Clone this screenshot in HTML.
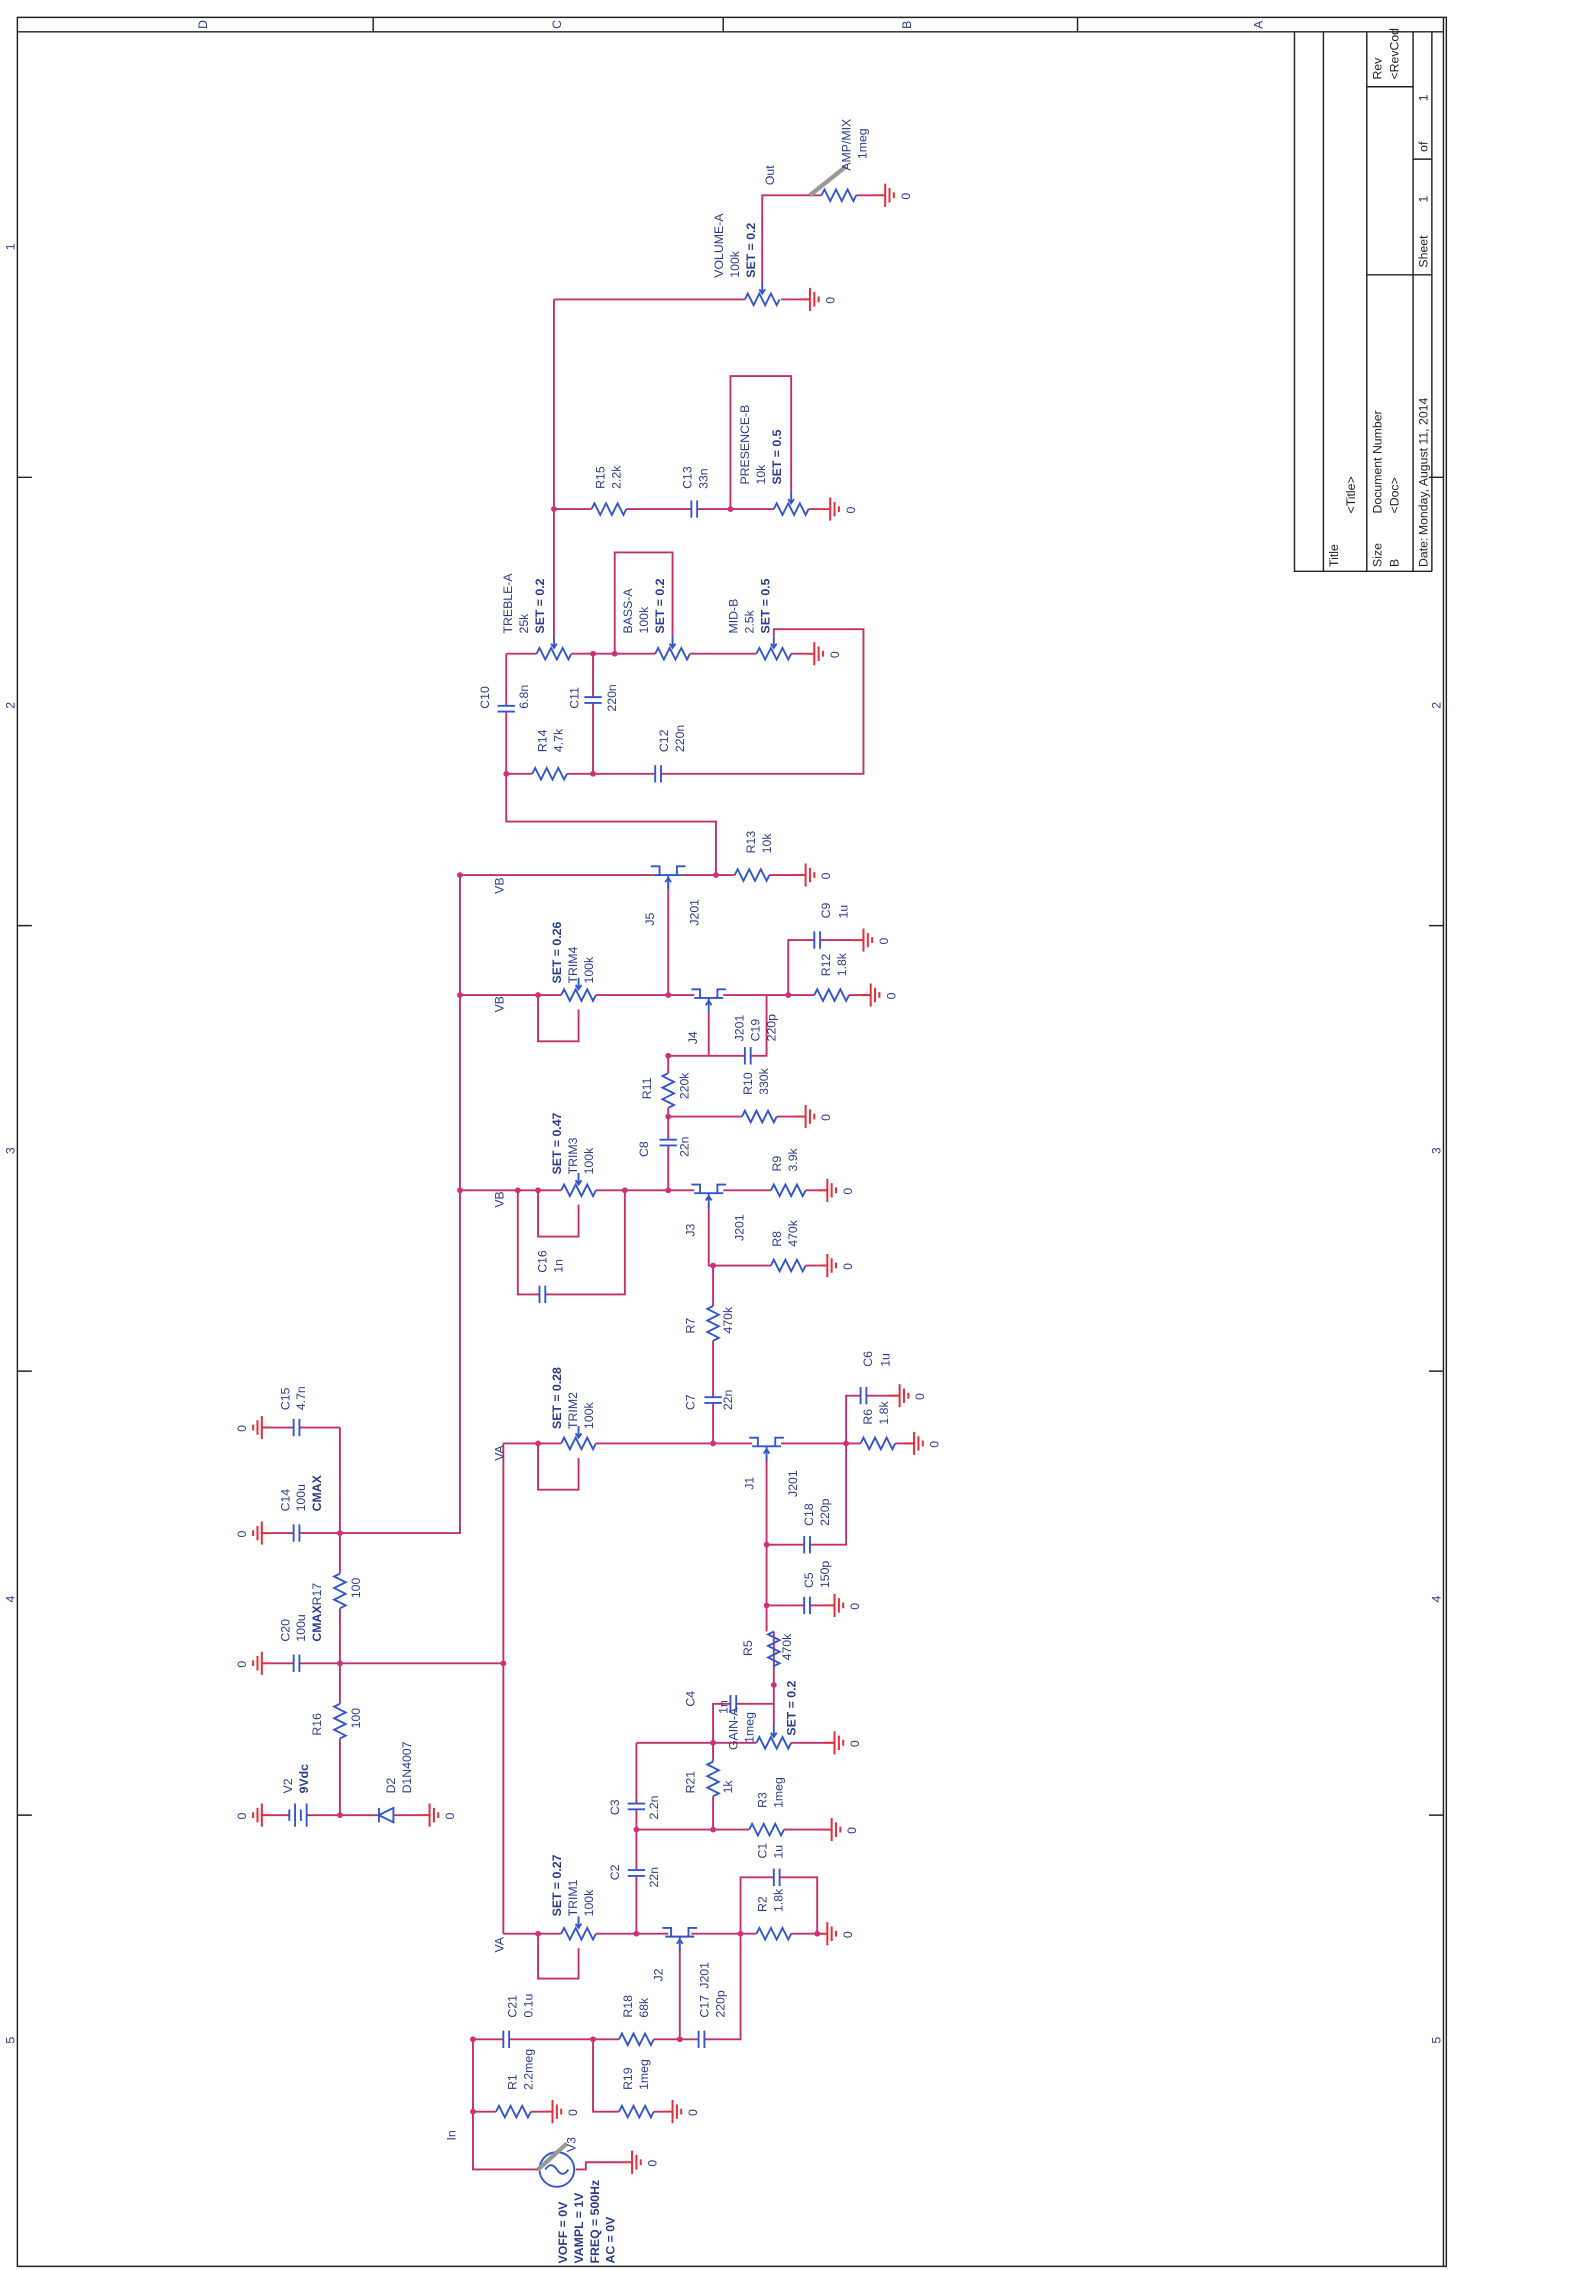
<!DOCTYPE html>
<html><head><meta charset="utf-8"><style>
html,body{margin:0;padding:0;background:#fff}
svg{display:block}
text{font-family:"Liberation Sans",sans-serif;font-size:8.5px;fill:#2a3a8a}
.w{fill:none;stroke:#c0306a;stroke-width:1.3}
.b{fill:none;stroke:#3355cc;stroke-width:1.3}
.k{fill:none;stroke:#222;stroke-width:1}
.d{fill:#d0307a}
</style></head><body>
<svg width="1591" height="2270" viewBox="0 0 1100 1569.5" xmlns="http://www.w3.org/2000/svg">
<defs>
<g id="rh"><path class="b" d="M-12,0 l2,-4 l4,8 l4,-8 l4,8 l4,-8 l4,8 l2,-4"/></g>
<g id="rv"><path class="b" d="M0,-12 l-4,2 l8,4 l-8,4 l8,4 l-8,4 l8,4 l-4,2"/></g>
<g id="ch"><path class="b" d="M-2,-6 v12 M2,-6 v12"/></g>
<g id="cv"><path class="b" d="M-6,-2 h12 M-6,2 h12"/></g>
<g id="gr"><path d="M0,0 h7 M7,-8 v16 M10,-5 v10 M13,-2 v4" stroke="#e03040" stroke-width="1.4" fill="none"/><text x="0" y="0" transform="translate(24,3) rotate(-90)">0</text></g>
<g id="gl"><path d="M0,0 h-7 M-7,-8 v16 M-10,-5 v10 M-13,-2 v4" stroke="#e03040" stroke-width="1.4" fill="none"/><text transform="translate(-18,3) rotate(-90)">0</text></g>
<g id="pot"><use href="#rh"/><path class="b" d="M0,-12 v8 M-2,-7 l2,3 l2,-3"/></g>
<g id="jf"><path class="b" d="M-10,0 h20 M-6,0 v-6 h-6 M6,0 v-6 h6 M0,0 v10 M-2,5 l2,-3 l2,3"/></g>
</defs>

<!-- frame -->
<path class="k" d="M12,12 H1000 V1567 H12 Z M12,22 H998 M998,12 V1567 M258,12 V22 M500,12 V22 M745,12 V22 M12,22 V1567 M12,330 H22 M12,640 H22 M12,948 H22 M12,1255 H22 M988,330 H998 M988,640 H998 M988,948 H998 M988,1255 H998"/>
<text transform="translate(143,20) rotate(-90)">D</text>
<text transform="translate(388,20) rotate(-90)">C</text>
<text transform="translate(630,20) rotate(-90)">B</text>
<text transform="translate(873,20) rotate(-90)">A</text>
<text transform="translate(10,173) rotate(-90)">1</text><text transform="translate(10,490) rotate(-90)">2</text><text transform="translate(10,798) rotate(-90)">3</text><text transform="translate(10,1108) rotate(-90)">4</text><text transform="translate(10,1413) rotate(-90)">5</text>
<text transform="translate(996,490) rotate(-90)">2</text><text transform="translate(996,798) rotate(-90)">3</text><text transform="translate(996,1108) rotate(-90)">4</text><text transform="translate(996,1413) rotate(-90)">5</text>
<!-- title block -->
<path class="k" d="M895,22 V395 H990 M915,22 V395 M945,22 V395 M977,22 V395 M990,22 V395 M945,60 H977 M945,190 H990 M977,110 H990"/>
<g style="fill:#222">
<text transform="translate(925,392) rotate(-90)" style="fill:#222">Title</text>
<text transform="translate(937,355) rotate(-90)" style="fill:#222">&lt;Title&gt;</text>
<text transform="translate(955,392) rotate(-90)" style="fill:#222">Size</text>
<text transform="translate(967,392) rotate(-90)" style="fill:#222">B</text>
<text transform="translate(955,355) rotate(-90)" style="fill:#222">Document Number</text>
<text transform="translate(967,355) rotate(-90)" style="fill:#222">&lt;Doc&gt;</text>
<text transform="translate(955,55) rotate(-90)" style="fill:#222">Rev</text>
<text transform="translate(967,55) rotate(-90)" style="fill:#222">&lt;RevCod</text>
<text transform="translate(987,392) rotate(-90)" style="fill:#222">Date:</text>
<text transform="translate(987,370) rotate(-90)" style="fill:#222">Monday, August 11, 2014</text>
<text transform="translate(987,185) rotate(-90)" style="fill:#222">Sheet</text>
<text transform="translate(987,140) rotate(-90)" style="fill:#222">1</text>
<text transform="translate(987,105) rotate(-90)" style="fill:#222">of</text>
<text transform="translate(987,70) rotate(-90)" style="fill:#222">1</text>
</g>

<!-- wires -->
<path class="w" d="
M383,207 H515 M540,207 H553 M527,195 V135 H568 M592,135 H605
M383,207 V440
M383,352 H409 M433,352 H478 M482,352 H535 M559,352 H567 M505,352 V260 H547 V340
M350,452 H371 M395,452 H453 M477,452 H523 M547,452 H556
M425,452 V382 H465 V440
M535,440 V435 H597 V535 H457 M453,535 H392 M368,535 H350 V492 M350,488 V452
M410,452 V482 M410,486 V535
M350,535 V568 H495 V605
M318,605 H452 M462,610 V688 M472,605 H508 M532,605 H550
M318,605 V1060 H235
M318,688 H388 M412,688 H480 M372,688 V720 H400 V698
M500,688 H545 M545,688 V650 H563 M567,650 H590 M545,688 H563 M587,688 H595
M490,700 V730 H462 M490,730 H515 M519,730 H530 V688
M462,730 V742 M462,766 V788 M462,792 V823
M462,772 H513 M537,772 H550
M318,823 H388 M412,823 H480 M358,823 V895 H373 M377,895 H432 V823 M372,823 V855 H400 V833
M500,823 H533 M557,823 H565
M490,833 V875 H533 M557,875 H565 M493,875 V903 M493,927 V966 M493,970 V998
M348,998 H388 M412,998 H520 M372,998 V1030 H400 V1008
M540,998 H595 M619,998 H625 M585,998 V965 H595 M599,965 H615
M530,1008 V1128 M530,1068 H556 M560,1068 H585 V998 M530,1110 H556 M560,1110 H570
M535,1128 V1152 M535,1152 V1193
M535,1165 H535 M493,1205 H523 M547,1205 H570
M493,1205 V1178 H505 M509,1178 H535 V1165
M493,1205 V1218 M493,1242 V1265 M440,1265 H518 M542,1265 H568
M440,1205 H493 M440,1205 V1247 M440,1251 V1293 M440,1297 V1337
M348,998 V1337 M348,1150 H235
M348,1337 H388 M412,1337 H462 M372,1337 V1368 H400 V1347
M478,1337 H512 V1298 H535 M539,1298 H565 V1337 M512,1337 H523 M547,1337 H565
M470,1347 V1410 M512,1337 V1410 H487 M483,1410 H470
M327,1410 H348 M352,1410 H428 M452,1410 H470
M327,1410 V1460 H343 M367,1460 H375 M410,1410 V1460 H428 M452,1460 H458
M327,1460 V1500 H372 M398,1500 H405 V1495 H430
M235,987 V1088 M235,1112 V1178 M235,1202 V1255 H262 M272,1255 H290
M235,1255 H212 M200,1255 H188
M235,1150 H207 M203,1150 H188 M235,1060 H207 M203,1060 H188 M235,987 H207 M203,987 H188
"/>

<!-- components -->
<use href="#pot" x="527" y="207"/><use href="#gr" x="553" y="207"/>
<use href="#rh" x="580" y="135"/><use href="#gr" x="605" y="135"/>
<use href="#rh" x="421" y="352"/><use href="#ch" x="480" y="352"/>
<use href="#pot" x="547" y="352"/><use href="#gr" x="567" y="352"/>
<use href="#pot" x="383" y="452"/><use href="#pot" x="465" y="452"/><use href="#pot" x="535" y="452"/><use href="#gr" x="556" y="452"/>
<use href="#cv" x="350" y="490"/><use href="#cv" x="410" y="484"/>
<use href="#rh" x="380" y="535"/><use href="#ch" x="455" y="535"/>
<use href="#jf" x="462" y="605"/><use href="#rh" x="520" y="605"/><use href="#gr" x="550" y="605"/>
<use href="#pot" x="400" y="688"/><use href="#jf" x="490" y="690"/>
<use href="#ch" x="565" y="650"/><use href="#gr" x="590" y="650"/>
<use href="#rh" x="575" y="688"/><use href="#gr" x="595" y="688"/>
<use href="#ch" x="517" y="730"/><use href="#rv" x="462" y="754"/><use href="#cv" x="462" y="790"/>
<use href="#rh" x="525" y="772"/><use href="#gr" x="550" y="772"/>
<use href="#pot" x="400" y="823"/><use href="#ch" x="375" y="895"/><use href="#jf" x="490" y="825"/>
<use href="#rh" x="545" y="823"/><use href="#gr" x="565" y="823"/>
<use href="#rh" x="545" y="875"/><use href="#gr" x="565" y="875"/>
<use href="#rv" x="493" y="915"/><use href="#cv" x="493" y="968"/>
<use href="#pot" x="400" y="998"/><use href="#jf" x="530" y="1000"/>
<use href="#rh" x="607" y="998"/><use href="#gr" x="625" y="998"/>
<use href="#ch" x="597" y="965"/><use href="#gr" x="615" y="965"/>
<use href="#ch" x="558" y="1068"/><use href="#ch" x="558" y="1110"/><use href="#gr" x="570" y="1110"/>
<use href="#rv" x="535" y="1140"/>
<use href="#pot" x="535" y="1205"/><use href="#gr" x="570" y="1205"/>
<use href="#ch" x="507" y="1178"/><use href="#rv" x="493" y="1230"/>
<use href="#rh" x="530" y="1265"/><use href="#gr" x="568" y="1265"/>
<use href="#cv" x="440" y="1249"/><use href="#cv" x="440" y="1295"/>
<use href="#pot" x="400" y="1337"/><use href="#jf" x="470" y="1339"/>
<use href="#ch" x="537" y="1298"/><use href="#rh" x="535" y="1337"/><use href="#gr" x="565" y="1337"/>
<use href="#ch" x="485" y="1410"/><use href="#rh" x="440" y="1410"/><use href="#ch" x="350" y="1410"/>
<use href="#rh" x="355" y="1460"/><use href="#gr" x="375" y="1460"/>
<use href="#rh" x="440" y="1460"/><use href="#gr" x="458" y="1460"/>
<circle cx="385" cy="1500" r="12" class="b"/><path class="b" d="M377,1500 q4,-6 8,0 q4,6 8,0"/>
<use href="#gr" x="430" y="1495"/>
<use href="#rv" x="235" y="1100"/><use href="#rv" x="235" y="1190"/>
<path class="b" d="M262,1250 v10 M262,1255 l10,-5 v10 z"/><use href="#gr" x="290" y="1255"/>
<path class="b" d="M212,1247 v16 M208,1251 v8 M204,1247 v16 M200,1251 v8"/><use href="#gl" x="188" y="1255"/>
<use href="#ch" x="205" y="1150"/><use href="#gl" x="188" y="1150"/>
<use href="#ch" x="205" y="1060"/><use href="#gl" x="188" y="1060"/>
<use href="#ch" x="205" y="987"/><use href="#gl" x="188" y="987"/>
<path d="M560,135 l25,-20" stroke="#999" stroke-width="3"/><path d="M372,1500 l20,-18" stroke="#999" stroke-width="3"/>

<!-- nodes -->
<g class="d">
<circle cx="383" cy="352" r="2"/><circle cx="505" cy="352" r="2"/><circle cx="410" cy="452" r="2"/><circle cx="425" cy="452" r="2"/>
<circle cx="350" cy="535" r="2"/><circle cx="410" cy="535" r="2"/><circle cx="495" cy="605" r="2"/><circle cx="318" cy="605" r="2"/>
<circle cx="318" cy="688" r="2"/><circle cx="372" cy="688" r="2"/><circle cx="462" cy="688" r="2"/><circle cx="545" cy="688" r="2"/><circle cx="462" cy="730" r="2"/><circle cx="462" cy="772" r="2"/>
<circle cx="318" cy="823" r="2"/><circle cx="358" cy="823" r="2"/><circle cx="372" cy="823" r="2"/><circle cx="432" cy="823" r="2"/><circle cx="462" cy="823" r="2"/><circle cx="493" cy="875" r="2"/>
<circle cx="493" cy="998" r="2"/><circle cx="372" cy="998" r="2"/><circle cx="585" cy="998" r="2"/><circle cx="530" cy="1068" r="2"/><circle cx="530" cy="1110" r="2"/><circle cx="535" cy="1165" r="2"/>
<circle cx="493" cy="1205" r="2"/><circle cx="493" cy="1265" r="2"/><circle cx="440" cy="1265" r="2"/><circle cx="440" cy="1337" r="2"/><circle cx="372" cy="1337" r="2"/>
<circle cx="512" cy="1337" r="2"/><circle cx="565" cy="1337" r="2"/><circle cx="470" cy="1410" r="2"/><circle cx="410" cy="1410" r="2"/><circle cx="327" cy="1410" r="2"/><circle cx="327" cy="1460" r="2"/>
<circle cx="348" cy="1150" r="2"/><circle cx="235" cy="1150" r="2"/><circle cx="235" cy="1060" r="2"/><circle cx="235" cy="1255" r="2"/>
</g>

<!-- labels -->
<text transform="translate(500,192) rotate(-90)">VOLUME-A</text><text transform="translate(511,192) rotate(-90)">100k</text><text transform="translate(522,192) rotate(-90)" style="font-weight:bold">SET = 0.2</text>
<text transform="translate(535,128) rotate(-90)">Out</text>
<text transform="translate(588,118) rotate(-90)">AMP/MIX</text><text transform="translate(599,110) rotate(-90)">1meg</text>
<text transform="translate(418,338) rotate(-90)">R15</text><text transform="translate(429,338) rotate(-90)">2.2k</text>
<text transform="translate(478,338) rotate(-90)">C13</text><text transform="translate(489,338) rotate(-90)">33n</text>
<text transform="translate(518,335) rotate(-90)">PRESENCE-B</text><text transform="translate(529,335) rotate(-90)">10k</text><text transform="translate(540,335) rotate(-90)" style="font-weight:bold">SET = 0.5</text>
<text transform="translate(354,438) rotate(-90)">TREBLE-A</text><text transform="translate(365,438) rotate(-90)">25k</text><text transform="translate(376,438) rotate(-90)" style="font-weight:bold">SET = 0.2</text>
<text transform="translate(437,438) rotate(-90)">BASS-A</text><text transform="translate(448,438) rotate(-90)">100k</text><text transform="translate(459,438) rotate(-90)" style="font-weight:bold">SET = 0.2</text>
<text transform="translate(510,438) rotate(-90)">MID-B</text><text transform="translate(521,438) rotate(-90)">2.5k</text><text transform="translate(532,438) rotate(-90)" style="font-weight:bold">SET = 0.5</text>
<text transform="translate(338,490) rotate(-90)">C10</text><text transform="translate(365,490) rotate(-90)">6.8n</text>
<text transform="translate(400,490) rotate(-90)">C11</text><text transform="translate(426,492) rotate(-90)">220n</text>
<text transform="translate(378,520) rotate(-90)">R14</text><text transform="translate(389,520) rotate(-90)">4.7k</text>
<text transform="translate(462,520) rotate(-90)">C12</text><text transform="translate(473,520) rotate(-90)">220n</text>
<text transform="translate(522,590) rotate(-90)">R13</text><text transform="translate(533,590) rotate(-90)">10k</text>
<text transform="translate(452,640) rotate(-90)">J5</text><text transform="translate(483,640) rotate(-90)">J201</text>
<text transform="translate(348,618) rotate(-90)">VB</text><text transform="translate(348,700) rotate(-90)">VB</text><text transform="translate(348,835) rotate(-90)">VB</text>
<text transform="translate(388,680) rotate(-90)" style="font-weight:bold">SET = 0.26</text><text transform="translate(399,680) rotate(-90)">TRIM4</text><text transform="translate(410,680) rotate(-90)">100k</text>
<text transform="translate(574,635) rotate(-90)">C9</text><text transform="translate(586,635) rotate(-90)">1u</text>
<text transform="translate(574,675) rotate(-90)">R12</text><text transform="translate(585,675) rotate(-90)">1.8k</text>
<text transform="translate(482,722) rotate(-90)">J4</text><text transform="translate(514,720) rotate(-90)">J201</text><text transform="translate(525,720) rotate(-90)">C19</text><text transform="translate(536,720) rotate(-90)">220p</text>
<text transform="translate(450,760) rotate(-90)">R11</text><text transform="translate(476,760) rotate(-90)">220k</text>
<text transform="translate(520,757) rotate(-90)">R10</text><text transform="translate(531,757) rotate(-90)">330k</text>
<text transform="translate(448,800) rotate(-90)">C8</text><text transform="translate(476,800) rotate(-90)">22n</text>
<text transform="translate(388,812) rotate(-90)" style="font-weight:bold">SET = 0.47</text><text transform="translate(399,812) rotate(-90)">TRIM3</text><text transform="translate(410,812) rotate(-90)">100k</text>
<text transform="translate(540,810) rotate(-90)">R9</text><text transform="translate(551,810) rotate(-90)">3.9k</text>
<text transform="translate(480,855) rotate(-90)">J3</text><text transform="translate(514,858) rotate(-90)">J201</text>
<text transform="translate(540,862) rotate(-90)">R8</text><text transform="translate(551,862) rotate(-90)">470k</text>
<text transform="translate(378,880) rotate(-90)">C16</text><text transform="translate(389,880) rotate(-90)">1n</text>
<text transform="translate(480,922) rotate(-90)">R7</text><text transform="translate(506,922) rotate(-90)">470k</text>
<text transform="translate(480,975) rotate(-90)">C7</text><text transform="translate(506,975) rotate(-90)">22n</text>
<text transform="translate(388,988) rotate(-90)" style="font-weight:bold">SET = 0.28</text><text transform="translate(399,988) rotate(-90)">TRIM2</text><text transform="translate(410,988) rotate(-90)">100k</text>
<text transform="translate(348,1010) rotate(-90)">VA</text><text transform="translate(348,1350) rotate(-90)">VA</text>
<text transform="translate(603,945) rotate(-90)">C6</text><text transform="translate(615,945) rotate(-90)">1u</text>
<text transform="translate(603,985) rotate(-90)">R6</text><text transform="translate(614,985) rotate(-90)">1.8k</text>
<text transform="translate(521,1030) rotate(-90)">J1</text><text transform="translate(551,1035) rotate(-90)">J201</text>
<text transform="translate(562,1055) rotate(-90)">C18</text><text transform="translate(573,1055) rotate(-90)">220p</text>
<text transform="translate(562,1098) rotate(-90)">C5</text><text transform="translate(573,1098) rotate(-90)">150p</text>
<text transform="translate(520,1145) rotate(-90)">R5</text><text transform="translate(547,1148) rotate(-90)">470k</text>
<text transform="translate(550,1200) rotate(-90)" style="font-weight:bold">SET = 0.2</text>
<text transform="translate(480,1180) rotate(-90)">C4</text><text transform="translate(503,1185) rotate(-90)">1n</text>
<text transform="translate(510,1210) rotate(-90)">GAIN-A</text><text transform="translate(521,1205) rotate(-90)">1meg</text>
<text transform="translate(480,1240) rotate(-90)">R21</text><text transform="translate(506,1240) rotate(-90)">1k</text>
<text transform="translate(530,1250) rotate(-90)">R3</text><text transform="translate(541,1250) rotate(-90)">1meg</text>
<text transform="translate(428,1255) rotate(-90)">C3</text><text transform="translate(455,1258) rotate(-90)">2.2n</text>
<text transform="translate(428,1300) rotate(-90)">C2</text><text transform="translate(455,1305) rotate(-90)">22n</text>
<text transform="translate(388,1325) rotate(-90)" style="font-weight:bold">SET = 0.27</text><text transform="translate(399,1325) rotate(-90)">TRIM1</text><text transform="translate(410,1325) rotate(-90)">100k</text>
<text transform="translate(530,1285) rotate(-90)">C1</text><text transform="translate(541,1285) rotate(-90)">1u</text>
<text transform="translate(530,1322) rotate(-90)">R2</text><text transform="translate(541,1322) rotate(-90)">1.8k</text>
<text transform="translate(458,1370) rotate(-90)">J2</text><text transform="translate(490,1375) rotate(-90)">J201</text>
<text transform="translate(490,1395) rotate(-90)">C17</text><text transform="translate(501,1395) rotate(-90)">220p</text>
<text transform="translate(437,1395) rotate(-90)">R18</text><text transform="translate(448,1395) rotate(-90)">68k</text>
<text transform="translate(357,1395) rotate(-90)">C21</text><text transform="translate(368,1395) rotate(-90)">0.1u</text>
<text transform="translate(357,1445) rotate(-90)">R1</text><text transform="translate(368,1445) rotate(-90)">2.2meg</text>
<text transform="translate(437,1445) rotate(-90)">R19</text><text transform="translate(448,1445) rotate(-90)">1meg</text>
<text transform="translate(315,1480) rotate(-90)">In</text>
<text transform="translate(398,1488) rotate(-90)">V3</text>
<text transform="translate(392,1565) rotate(-90)" style="font-weight:bold">VOFF = 0V</text><text transform="translate(403,1565) rotate(-90)" style="font-weight:bold">VAMPL = 1V</text><text transform="translate(414,1565) rotate(-90)" style="font-weight:bold">FREQ = 500Hz</text><text transform="translate(425,1565) rotate(-90)" style="font-weight:bold">AC = 0V</text>
<text transform="translate(200,975) rotate(-90)">C15</text><text transform="translate(211,975) rotate(-90)">4.7n</text>
<text transform="translate(200,1045) rotate(-90)">C14</text><text transform="translate(211,1045) rotate(-90)">100u</text><text transform="translate(222,1045) rotate(-90)" style="font-weight:bold">CMAX</text>
<text transform="translate(222,1110) rotate(-90)">R17</text><text transform="translate(249,1105) rotate(-90)">100</text>
<text transform="translate(200,1135) rotate(-90)">C20</text><text transform="translate(211,1135) rotate(-90)">100u</text><text transform="translate(222,1135) rotate(-90)" style="font-weight:bold">CMAX</text>
<text transform="translate(222,1200) rotate(-90)">R16</text><text transform="translate(249,1195) rotate(-90)">100</text>
<text transform="translate(202,1240) rotate(-90)">V2</text><text transform="translate(213,1240) rotate(-90)" style="font-weight:bold">9Vdc</text>
<text transform="translate(273,1240) rotate(-90)">D2</text><text transform="translate(284,1240) rotate(-90)">D1N4007</text>
</svg>
</body></html>
